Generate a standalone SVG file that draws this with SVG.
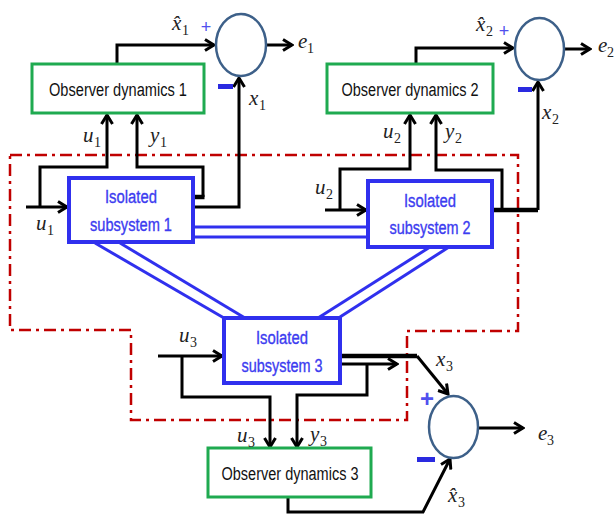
<svg xmlns="http://www.w3.org/2000/svg" width="614" height="514" viewBox="0 0 614 514">
<defs>
<style>
.wire{fill:none;stroke:#000;stroke-width:3;stroke-linejoin:miter}
.thick{fill:none;stroke:#000;stroke-width:4.5}
.obs{fill:#fff;stroke:#1faa50;stroke-width:3}
.sub{fill:#fff;stroke:#3030ee;stroke-width:4}
.sum{fill:#fff;stroke:#3d6089;stroke-width:2.5}
.cpl{fill:none;stroke:#3030ee;stroke-width:3}
.bound{fill:none;stroke:#c00000;stroke-width:2.5;stroke-dasharray:12 5 3 5}
.otxt{font-family:"Liberation Sans",Arial,sans-serif;font-size:18px;fill:#111;text-anchor:middle}
.stxt{font-family:"Liberation Sans",Arial,sans-serif;font-size:18px;fill:#3c3cf0;stroke:#3c3cf0;stroke-width:0.35;text-anchor:middle}
.m{font-family:"Liberation Serif","Times New Roman",serif;font-style:italic;font-size:21px;fill:#222}
.sb{font-family:"Liberation Serif","Times New Roman",serif;font-size:14px;fill:#222}
.plus{font-family:"Liberation Sans",Arial,sans-serif;fill:#5050ee;text-anchor:middle}
.minus{fill:#2a2ae0}
</style>
<marker id="ah" markerUnits="userSpaceOnUse" markerWidth="14" markerHeight="14" viewBox="0 0 14 14" refX="12" refY="7" orient="auto">
<path d="M3,1.5 L12,7 L3,12.5" fill="none" stroke="#000" stroke-width="3"/>
</marker>
</defs>
<rect width="614" height="514" fill="#fff"/>

<polygon class="bound" points="10,155 518,155 518,331 407,331 407,420 131,420 131,330 10,330"/>

<g id="couplings">
<line class="cpl" x1="193" y1="227" x2="368" y2="227"/>
<line class="cpl" x1="193" y1="237" x2="368" y2="237"/>
<line class="cpl" x1="95" y1="243" x2="224" y2="318"/>
<line class="cpl" x1="120" y1="243" x2="245" y2="318"/>
<line class="cpl" x1="430" y1="247" x2="318" y2="318"/>
<line class="cpl" x1="449" y1="247" x2="340" y2="317"/>
</g>

<g id="connectors">
<path class="wire" d="M117,64 V45 H214" marker-end="url(#ah)"/>
<path class="wire" d="M266,45 H292" marker-end="url(#ah)"/>
<path class="wire" d="M26,207 H67" marker-end="url(#ah)"/>
<path class="wire" d="M40,207 V167 H107 V115" marker-end="url(#ah)"/>
<path class="wire" d="M203,197 V167 H137 V115" marker-end="url(#ah)"/>
<path class="thick" d="M193,197 H204.5"/>
<path class="wire" d="M193,207 H239 V78" marker-end="url(#ah)"/>
<path class="wire" d="M416,64 V48 H513" marker-end="url(#ah)"/>
<path class="wire" d="M564,49 H590" marker-end="url(#ah)"/>
<path class="wire" d="M325,210 H366" marker-end="url(#ah)"/>
<path class="wire" d="M340,210 V169 H410 V115" marker-end="url(#ah)"/>
<path class="wire" d="M502,210 V170 H436 V115" marker-end="url(#ah)"/>
<path class="thick" d="M492,210 H538"/>
<path class="wire" d="M538,210 V82" marker-end="url(#ah)"/>
<path class="wire" d="M158,356 H222" marker-end="url(#ah)"/>
<path class="wire" d="M182,356 V397 H270 V447" marker-end="url(#ah)"/>
<path class="thick" d="M340,356 H417"/>
<path class="wire" d="M417,356 L448,394" marker-end="url(#ah)"/>
<path class="wire" d="M340,364 H397" marker-end="url(#ah)"/>
<path class="wire" d="M367,364 V395 H297 V447" marker-end="url(#ah)"/>
<path class="wire" d="M288,497 V512 H423 L450,459" marker-end="url(#ah)"/>
<path class="wire" d="M478,428 H523" marker-end="url(#ah)"/>
</g>

<g id="obs1">
<rect class="obs" x="32" y="64" width="172" height="49"/>
<text class="otxt" x="118" y="96" textLength="138" lengthAdjust="spacingAndGlyphs">Observer dynamics 1</text>
</g>
<g id="obs2">
<rect class="obs" x="327" y="64" width="166" height="49"/>
<text class="otxt" x="410" y="96" textLength="137" lengthAdjust="spacingAndGlyphs">Observer dynamics 2</text>
</g>
<g id="obs3">
<rect class="obs" x="208" y="448" width="163" height="49"/>
<text class="otxt" x="290" y="480" textLength="137" lengthAdjust="spacingAndGlyphs">Observer dynamics 3</text>
</g>

<g id="sub1">
<rect class="sub" x="69" y="178" width="124" height="64"/>
<text class="stxt" x="131" y="203" textLength="52" lengthAdjust="spacingAndGlyphs">Isolated</text>
<text class="stxt" x="131" y="231" textLength="82" lengthAdjust="spacingAndGlyphs">subsystem 1</text>
</g>
<g id="sub2">
<rect class="sub" x="368" y="181" width="124" height="66"/>
<text class="stxt" x="430" y="207" textLength="52" lengthAdjust="spacingAndGlyphs">Isolated</text>
<text class="stxt" x="430" y="234" textLength="81" lengthAdjust="spacingAndGlyphs">subsystem 2</text>
</g>
<g id="sub3">
<rect class="sub" x="224" y="318" width="116" height="65"/>
<text class="stxt" x="282" y="344" textLength="52" lengthAdjust="spacingAndGlyphs">Isolated</text>
<text class="stxt" x="282" y="372" textLength="81" lengthAdjust="spacingAndGlyphs">subsystem 3</text>
</g>

<g id="sum1">
<ellipse class="sum" cx="241" cy="45" rx="25" ry="31"/>
<text class="plus" x="206" y="33" font-size="18">+</text>
<rect class="minus" x="218" y="84" width="15" height="5"/>
</g>
<g id="sum2">
<ellipse class="sum" cx="539.5" cy="49" rx="24.5" ry="31"/>
<text class="plus" x="504" y="37" font-size="18">+</text>
<rect class="minus" x="518" y="87" width="14" height="5"/>
</g>
<g id="sum3">
<ellipse class="sum" cx="453.5" cy="427" rx="24.5" ry="31"/>
<text class="plus" x="427" y="407" font-size="24" font-weight="bold" fill="#3a3aee">+</text>
<rect class="minus" x="417" y="457" width="18" height="5"/>
</g>

<g id="labels">
<text class="m" x="172" y="30">x&#x0302;</text><text class="sb" x="182" y="35">1</text>
<text class="m" x="298" y="48">e</text><text class="sb" x="307" y="53">1</text>
<text class="m" x="249" y="105">x</text><text class="sb" x="259" y="110">1</text>
<text class="m" x="83" y="142">u</text><text class="sb" x="94" y="147">1</text>
<text class="m" x="150" y="142">y</text><text class="sb" x="160" y="147">1</text>
<text class="m" x="36" y="230">u</text><text class="sb" x="47" y="235">1</text>
<text class="m" x="476" y="31">x&#x0302;</text><text class="sb" x="486" y="36">2</text>
<text class="m" x="598" y="52">e</text><text class="sb" x="607" y="57">2</text>
<text class="m" x="542" y="119">x</text><text class="sb" x="552" y="124">2</text>
<text class="m" x="383" y="138">u</text><text class="sb" x="394" y="143">2</text>
<text class="m" x="445" y="138">y</text><text class="sb" x="455" y="143">2</text>
<text class="m" x="315" y="194">u</text><text class="sb" x="326" y="199">2</text>
<text class="m" x="179" y="342">u</text><text class="sb" x="190" y="347">3</text>
<text class="m" x="237" y="442">u</text><text class="sb" x="248" y="447">3</text>
<text class="m" x="310" y="441">y</text><text class="sb" x="320" y="446">3</text>
<text class="m" x="436" y="366">x</text><text class="sb" x="446" y="371">3</text>
<text class="m" x="538" y="440">e</text><text class="sb" x="547" y="445">3</text>
<text class="m" x="448" y="502">x&#x0302;</text><text class="sb" x="458" y="507">3</text>
</g>
</svg>
